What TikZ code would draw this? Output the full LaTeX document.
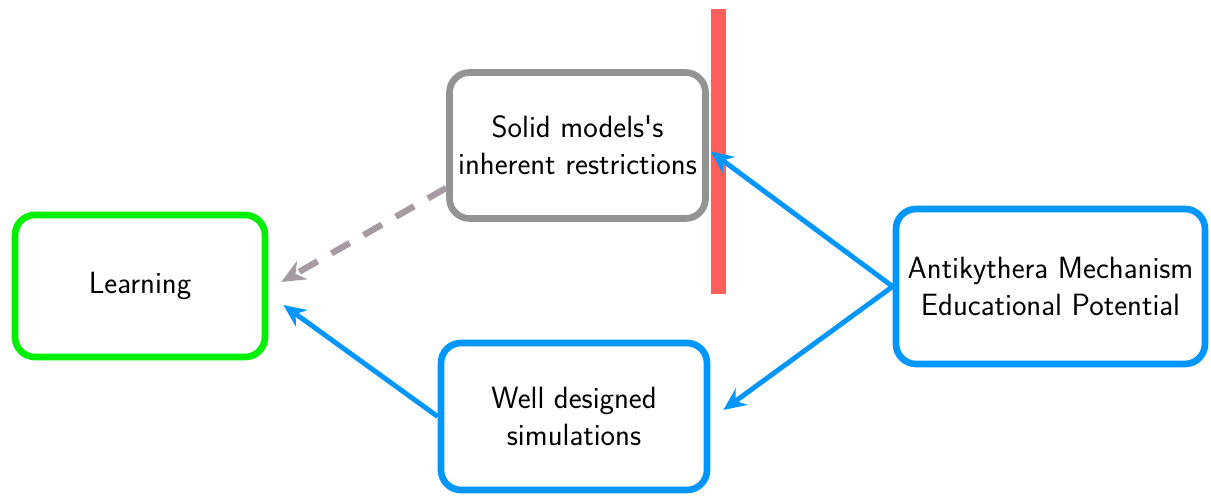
\documentclass[tikz,border=0pt]{standalone}
\usepackage{xcolor}
\usepackage{tikz}
\usetikzlibrary{arrows.meta}
\definecolor{learngreen}{HTML}{00F000}
\definecolor{simblue}{HTML}{0096FF}
\definecolor{solidgray}{HTML}{939393}
\definecolor{dashgray}{HTML}{A79BA3}
\definecolor{barred}{HTML}{FF5F5A}
\tikzset{
  box/.style={rectangle, rounded corners=0.4cm, draw, fill=white, line width=3.8pt,
              align=center, font=\sffamily\fontsize{17.5}{21}\selectfont, inner sep=4pt},
  learnbox/.style={box, draw=learngreen, minimum width=5.0cm, minimum height=2.84cm},
  solidbox/.style={box, draw=solidgray, minimum width=5.12cm, minimum height=2.92cm},
  simbox/.style={box, draw=simblue, minimum width=5.32cm, minimum height=2.94cm},
  srcbox/.style={box, draw=simblue, minimum width=6.18cm, minimum height=3.1cm},
  barrier/.style={rectangle, fill=barred, minimum width=0.3cm, minimum height=5.7cm, inner sep=0pt},
  fl/.style={-{Stealth[length=0.45cm, width=0.4cm]}, draw=simblue, line width=2.8pt},
  flx/.style={-{Stealth[length=0.48cm, width=0.42cm]}, draw=dashgray, line width=3.6pt,
              dash pattern=on 0.42cm off 0.32cm}
}

\begin{document}
\begin{tikzpicture}
  \useasboundingbox (0,0) rectangle (24.22,-9.94);
  \node[learnbox] (learn) at (2.8,-5.72) {Learning};
  \node[solidbox] (solid) at (11.55,-2.91) {Solid models\textquotesingle s\\inherent restrictions};
  \node[simbox] (sim) at (11.48,-8.33) {Well designed\\simulations};
  \node[srcbox] (ant) at (21.01,-5.73) {Antikythera Mechanism\\Educational Potential};
  \node[barrier] (bar) at (14.37,-3.03) {};

  \draw[flx] ([yshift=-0.85cm]solid.west) -- ([shift={(0.26cm,0.08cm)}]learn.east);
  \draw[fl] (sim.west) -- ([shift={(0.3cm,-0.38cm)}]learn.east);
  \draw[fl] (ant.west) -- (bar.west);
  \draw[fl] (ant.west) -- ([shift={(0.26cm,0.13cm)}]sim.east);
\end{tikzpicture}
\end{document}
